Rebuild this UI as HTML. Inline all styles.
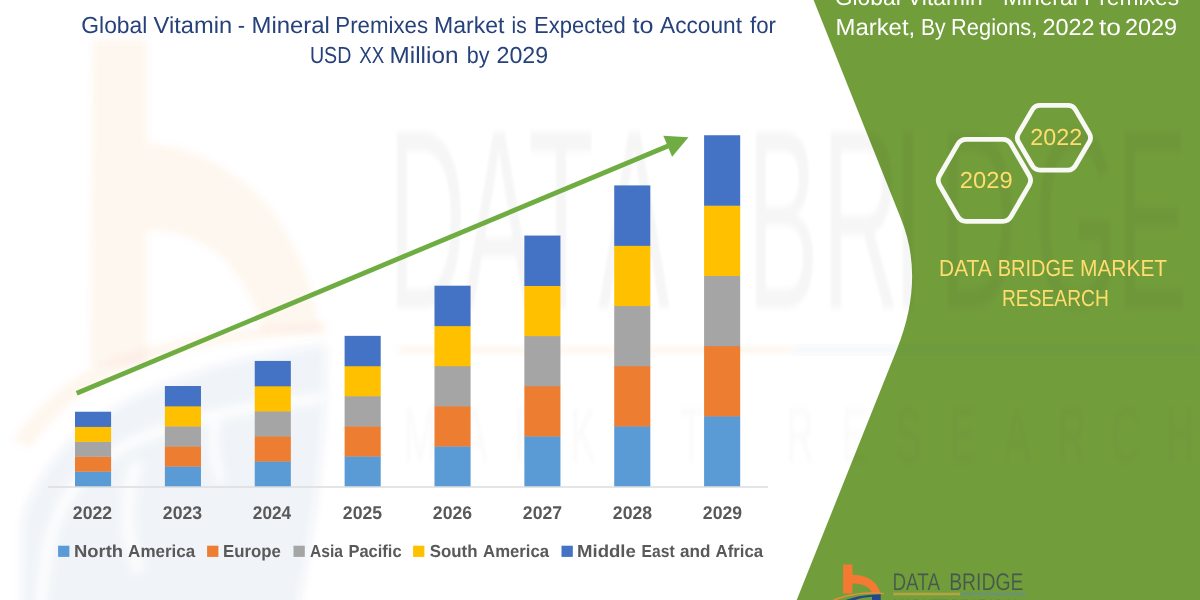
<!DOCTYPE html>
<html lang="en">
<head>
<meta charset="utf-8">
<title>Global Vitamin - Mineral Premixes Market</title>
<style>
html,body{margin:0;padding:0;background:#fff;}
body{width:1200px;height:600px;overflow:hidden;}
svg{display:block;}
text{font-family:"Liberation Sans",sans-serif;text-rendering:geometricPrecision;}
</style>
</head>
<body>
<svg width="1200" height="600" viewBox="0 0 1200 600">
<rect width="1200" height="600" fill="#ffffff"/>
<defs>
<filter id="b3" x="-20%" y="-20%" width="140%" height="140%"><feGaussianBlur stdDeviation="3"/></filter>
<filter id="b6" x="-20%" y="-20%" width="140%" height="140%"><feGaussianBlur stdDeviation="5"/></filter>
</defs>
<g id="wm" aria-hidden="true">
<g filter="url(#b6)" fill="#2F4C85" fill-opacity="0.058">
<path d="M22 660 L22 522 C30 490 52 458 78 433 C115 402 175 376 240 360 C270 353 300 348 326 345 C326 440 316 540 286 660 Z"/>
</g>
<g filter="url(#b6)" fill="none" stroke="#ffffff" stroke-opacity="0.85" stroke-width="9">
<path d="M40 640 C41 540 58 496 96 464 C140 432 200 412 322 398" stroke-width="11"/>
<path d="M138 462 C124 495 124 535 140 572" stroke-width="14" stroke-opacity="0.7"/>
<path d="M216 420 C212 440 214 462 222 482"/>
</g>
<g filter="url(#b3)" fill="#F47B35" fill-opacity="0.06">
<path d="M92.5 40 H147.5 V142.5 C200 146 262 178 296 250 C312 284 318 310 320 332 H262 C258 310 246 285 228 264 C208 243 182 232 147.5 230 V366 H90 Z"/>
<path d="M12 440 C40 400 75 372 120 355 C190 333 260 326 326 322 L326 334 C260 338 200 345 140 364 C95 380 60 410 30 448 Z"/>
</g>
</g>
<path d="M813.6 0 L901.2 219.3 Q925 279 897 349 L796.7 600 L1200 600 L1200 0 Z" fill="#729D3B"/>
<g id="wm2" aria-hidden="true">
<g filter="url(#b3)">
<rect x="398" y="346" width="395" height="8" fill="#F47B35" fill-opacity="0.06"/>
<rect x="793" y="346" width="407" height="8" fill="#24478F" fill-opacity="0.045"/>
</g>
<g filter="url(#b3)" fill="#000000" fill-opacity="0.036" font-size="256" text-anchor="middle" transform="scale(0.42 1)">
<text y="308" x="1017 1188 1336 1510 1690 1864 2050 2162 2329 2562 2743">DATA BRIDGE</text>
</g>
<g filter="url(#b3)" fill="#000000" fill-opacity="0.02" font-size="78" text-anchor="middle" transform="scale(0.5 1)">
<text y="462" x="840 949 1057 1166 1274 1383 1491 1600 1709 1817 1926 2034 2143 2251 2360">MARKET RESEARCH</text>
</g>
</g>
<g id="title">
<text y="32.6" font-size="23.2" fill="#27427A"><tspan x="81.32" textLength="66.02" lengthAdjust="spacingAndGlyphs">Global</tspan><tspan x="146.2"> </tspan><tspan x="153.6" textLength="78.51" lengthAdjust="spacingAndGlyphs">Vitamin</tspan><tspan x="231.2"> </tspan><tspan x="237.85" textLength="7.34" lengthAdjust="spacingAndGlyphs">-</tspan><tspan x="244.5"> </tspan><tspan x="251.47" textLength="78.42" lengthAdjust="spacingAndGlyphs">Mineral</tspan><tspan x="328.7"> </tspan><tspan x="335.34" textLength="92.73" lengthAdjust="spacingAndGlyphs">Premixes</tspan><tspan x="427.5"> </tspan><tspan x="434.01" textLength="70.44" lengthAdjust="spacingAndGlyphs">Market</tspan><tspan x="505.0"> </tspan><tspan x="511.6" textLength="15.14" lengthAdjust="spacingAndGlyphs">is</tspan><tspan x="526.2"> </tspan><tspan x="534.05" textLength="91.8" lengthAdjust="spacingAndGlyphs">Expected</tspan><tspan x="625.0"> </tspan><tspan x="632.5" textLength="20.97" lengthAdjust="spacingAndGlyphs">to</tspan><tspan x="652.5"> </tspan><tspan x="660.0" textLength="81.95" lengthAdjust="spacingAndGlyphs">Account</tspan><tspan x="742.5"> </tspan><tspan x="750.0" textLength="25.93" lengthAdjust="spacingAndGlyphs">for</tspan></text>
<text y="62.6" font-size="23.2" fill="#27427A"><tspan x="309.95" textLength="41.48" lengthAdjust="spacingAndGlyphs">USD</tspan><tspan x="350.8"> </tspan><tspan x="359.2" textLength="24.98" lengthAdjust="spacingAndGlyphs">XX</tspan><tspan x="383.8"> </tspan><tspan x="389.55" textLength="68.89" lengthAdjust="spacingAndGlyphs">Million</tspan><tspan x="457.5"> </tspan><tspan x="466.87" textLength="22.75" lengthAdjust="spacingAndGlyphs">by</tspan><tspan x="490.0"> </tspan><tspan x="496.5" textLength="51.6" lengthAdjust="spacingAndGlyphs">2029</tspan></text>
</g>
<rect x="48" y="486.3" width="720" height="1.4" fill="#DADADA"/>
<g id="bars">
<rect x="75.00" y="471.39" width="36.1" height="14.91" fill="#5B9BD5"/>
<rect x="75.00" y="456.47" width="36.1" height="15.21" fill="#ED7D31"/>
<rect x="75.00" y="441.56" width="36.1" height="15.21" fill="#A5A5A5"/>
<rect x="75.00" y="426.64" width="36.1" height="15.21" fill="#FFC000"/>
<rect x="75.00" y="411.73" width="36.1" height="15.21" fill="#4472C4"/>
<rect x="164.87" y="466.24" width="36.1" height="20.06" fill="#5B9BD5"/>
<rect x="164.87" y="446.18" width="36.1" height="20.36" fill="#ED7D31"/>
<rect x="164.87" y="426.12" width="36.1" height="20.36" fill="#A5A5A5"/>
<rect x="164.87" y="406.06" width="36.1" height="20.36" fill="#FFC000"/>
<rect x="164.87" y="386.00" width="36.1" height="20.36" fill="#4472C4"/>
<rect x="254.74" y="461.23" width="36.1" height="25.07" fill="#5B9BD5"/>
<rect x="254.74" y="436.15" width="36.1" height="25.38" fill="#ED7D31"/>
<rect x="254.74" y="411.08" width="36.1" height="25.38" fill="#A5A5A5"/>
<rect x="254.74" y="386.00" width="36.1" height="25.38" fill="#FFC000"/>
<rect x="254.74" y="360.93" width="36.1" height="25.38" fill="#4472C4"/>
<rect x="344.61" y="456.21" width="36.1" height="30.09" fill="#5B9BD5"/>
<rect x="344.61" y="426.12" width="36.1" height="30.39" fill="#ED7D31"/>
<rect x="344.61" y="396.03" width="36.1" height="30.39" fill="#A5A5A5"/>
<rect x="344.61" y="365.94" width="36.1" height="30.39" fill="#FFC000"/>
<rect x="344.61" y="335.85" width="36.1" height="30.39" fill="#4472C4"/>
<rect x="434.48" y="446.18" width="36.1" height="40.12" fill="#5B9BD5"/>
<rect x="434.48" y="406.06" width="36.1" height="40.42" fill="#ED7D31"/>
<rect x="434.48" y="365.94" width="36.1" height="40.42" fill="#A5A5A5"/>
<rect x="434.48" y="325.82" width="36.1" height="40.42" fill="#FFC000"/>
<rect x="434.48" y="285.70" width="36.1" height="40.42" fill="#4472C4"/>
<rect x="524.35" y="436.15" width="36.1" height="50.15" fill="#5B9BD5"/>
<rect x="524.35" y="386.00" width="36.1" height="50.45" fill="#ED7D31"/>
<rect x="524.35" y="335.85" width="36.1" height="50.45" fill="#A5A5A5"/>
<rect x="524.35" y="285.70" width="36.1" height="50.45" fill="#FFC000"/>
<rect x="524.35" y="235.55" width="36.1" height="50.45" fill="#4472C4"/>
<rect x="614.22" y="426.12" width="36.1" height="60.18" fill="#5B9BD5"/>
<rect x="614.22" y="365.94" width="36.1" height="60.48" fill="#ED7D31"/>
<rect x="614.22" y="305.76" width="36.1" height="60.48" fill="#A5A5A5"/>
<rect x="614.22" y="245.58" width="36.1" height="60.48" fill="#FFC000"/>
<rect x="614.22" y="185.40" width="36.1" height="60.48" fill="#4472C4"/>
<rect x="704.09" y="416.09" width="36.1" height="70.21" fill="#5B9BD5"/>
<rect x="704.09" y="345.88" width="36.1" height="70.51" fill="#ED7D31"/>
<rect x="704.09" y="275.67" width="36.1" height="70.51" fill="#A5A5A5"/>
<rect x="704.09" y="205.46" width="36.1" height="70.51" fill="#FFC000"/>
<rect x="704.09" y="135.25" width="36.1" height="70.51" fill="#4472C4"/>
</g>
<line x1="76.7" y1="393.2" x2="668" y2="146" stroke="#6FAD43" stroke-width="4.8"/>
<polygon points="688.5,137.2 663.3,135.8 672.1,156.7" fill="#6FAD43"/>
<g id="years">
<text y="518.7" font-size="18.4" font-weight="bold" fill="#595959"><tspan x="72.85" textLength="39.22" lengthAdjust="spacingAndGlyphs">2022</tspan></text>
<text y="518.7" font-size="18.4" font-weight="bold" fill="#595959"><tspan x="162.85" textLength="39.22" lengthAdjust="spacingAndGlyphs">2023</tspan></text>
<text y="518.7" font-size="18.4" font-weight="bold" fill="#595959"><tspan x="252.85" textLength="38.28" lengthAdjust="spacingAndGlyphs">2024</tspan></text>
<text y="518.7" font-size="18.4" font-weight="bold" fill="#595959"><tspan x="342.85" textLength="39.22" lengthAdjust="spacingAndGlyphs">2025</tspan></text>
<text y="518.7" font-size="18.4" font-weight="bold" fill="#595959"><tspan x="432.85" textLength="39.22" lengthAdjust="spacingAndGlyphs">2026</tspan></text>
<text y="518.7" font-size="18.4" font-weight="bold" fill="#595959"><tspan x="522.85" textLength="39.22" lengthAdjust="spacingAndGlyphs">2027</tspan></text>
<text y="518.7" font-size="18.4" font-weight="bold" fill="#595959"><tspan x="612.85" textLength="39.22" lengthAdjust="spacingAndGlyphs">2028</tspan></text>
<text y="518.7" font-size="18.4" font-weight="bold" fill="#595959"><tspan x="702.85" textLength="39.22" lengthAdjust="spacingAndGlyphs">2029</tspan></text>
</g>
<g id="legend">
<rect x="58.1" y="545.7" width="11.3" height="11.2" fill="#5B9BD5"/>
<rect x="207.1" y="545.7" width="11.3" height="11.2" fill="#ED7D31"/>
<rect x="293.5" y="545.7" width="11.3" height="11.2" fill="#A5A5A5"/>
<rect x="413.1" y="545.7" width="11.3" height="11.2" fill="#FFC000"/>
<rect x="561.5" y="545.7" width="11.3" height="11.2" fill="#4472C4"/>
<text y="556.6" font-size="17.4" font-weight="bold" fill="#595959"><tspan x="73.94" textLength="49.22" lengthAdjust="spacingAndGlyphs">North</tspan><tspan x="122.5"> </tspan><tspan x="128.1" textLength="67.18" lengthAdjust="spacingAndGlyphs">America</tspan></text>
<text y="556.6" font-size="17.4" font-weight="bold" fill="#595959"><tspan x="223.03" textLength="57.95" lengthAdjust="spacingAndGlyphs">Europe</tspan></text>
<text y="556.6" font-size="17.4" font-weight="bold" fill="#595959"><tspan x="310.0" textLength="33.01" lengthAdjust="spacingAndGlyphs">Asia</tspan><tspan x="343.3"> </tspan><tspan x="348.45" textLength="53.14" lengthAdjust="spacingAndGlyphs">Pacific</tspan></text>
<text y="556.6" font-size="17.4" font-weight="bold" fill="#595959"><tspan x="429.7" textLength="47.8" lengthAdjust="spacingAndGlyphs">South</tspan><tspan x="476.9"> </tspan><tspan x="483.1" textLength="65.98" lengthAdjust="spacingAndGlyphs">America</tspan></text>
<text y="556.6" font-size="17.4" font-weight="bold" fill="#595959"><tspan x="577.03" textLength="58.82" lengthAdjust="spacingAndGlyphs">Middle</tspan><tspan x="636.2"> </tspan><tspan x="641.6" textLength="33.01" lengthAdjust="spacingAndGlyphs">East</tspan><tspan x="674.8"> </tspan><tspan x="680.0" textLength="30.41" lengthAdjust="spacingAndGlyphs">and</tspan><tspan x="709.8"> </tspan><tspan x="715.6" textLength="47.58" lengthAdjust="spacingAndGlyphs">Africa</tspan></text>
</g>
<g id="panel">
<text y="4.5" font-size="23.2" fill="#FFFFFF"><tspan x="834.82" textLength="344.27" lengthAdjust="spacingAndGlyphs">Global Vitamin - Mineral Premixes</tspan></text>
<text y="34.9" font-size="23.2" fill="#FFFFFF"><tspan x="835.47" textLength="79.72" lengthAdjust="spacingAndGlyphs">Market,</tspan><tspan x="913.7"> </tspan><tspan x="921.09" textLength="24.54" lengthAdjust="spacingAndGlyphs">By</tspan><tspan x="946.0"> </tspan><tspan x="951.06" textLength="86.3" lengthAdjust="spacingAndGlyphs">Regions,</tspan><tspan x="1036.0"> </tspan><tspan x="1042.49" textLength="52.12" lengthAdjust="spacingAndGlyphs">2022</tspan><tspan x="1093.7"> </tspan><tspan x="1099.0" textLength="22.02" lengthAdjust="spacingAndGlyphs">to</tspan><tspan x="1120.0"> </tspan><tspan x="1124.99" textLength="52.12" lengthAdjust="spacingAndGlyphs">2029</tspan></text>
</g>
<g id="hex">
<path d="M939.6 185.1 Q936.8 180.3 939.6 175.5 L957.8 144.1 Q960.6 139.3 966.1 139.3 L1002.7 139.3 Q1008.2 139.3 1011.0 144.1 L1029.2 175.5 Q1032.0 180.3 1029.2 185.1 L1011.0 216.5 Q1008.2 221.3 1002.7 221.3 L966.1 221.3 Q960.6 221.3 957.8 216.5 Z" fill="none" stroke="#F8F8F5" stroke-width="4.8" stroke-linejoin="round"/>
<path d="M1018.5 142.0 Q1016.0 137.7 1018.5 133.4 L1032.4 109.6 Q1035.0 105.3 1040.0 105.3 L1067.9 105.3 Q1072.9 105.3 1075.4 109.6 L1089.3 133.4 Q1091.8 137.7 1089.3 142.0 L1075.4 165.8 Q1072.9 170.1 1067.9 170.1 L1040.0 170.1 Q1035.0 170.1 1032.4 165.8 Z" fill="none" stroke="#F8F8F5" stroke-width="4.8" stroke-linejoin="round"/>
<text y="188.4" font-size="23.2" fill="#FFDD6E"><tspan x="959.78" textLength="52.84" lengthAdjust="spacingAndGlyphs">2029</tspan></text>
<text y="145.1" font-size="23.2" fill="#FFDD6E"><tspan x="1030.29" textLength="51.91" lengthAdjust="spacingAndGlyphs">2022</tspan></text>
</g>
<g id="dbmr">
<text y="275.7" font-size="23.2" fill="#FFDD6E"><tspan x="939.1" textLength="52.72" lengthAdjust="spacingAndGlyphs">DATA</tspan><tspan x="992.3"> </tspan><tspan x="997.64" textLength="76.77" lengthAdjust="spacingAndGlyphs">BRIDGE</tspan><tspan x="1074.0"> </tspan><tspan x="1080.0" textLength="87.15" lengthAdjust="spacingAndGlyphs">MARKET</tspan></text>
<text y="305.7" font-size="23.2" fill="#FFDD6E"><tspan x="1001.97" textLength="106.88" lengthAdjust="spacingAndGlyphs">RESEARCH</tspan></text>
</g>
<g id="logo">
<path d="M843.1 564.4 H852.4 V575.0 C866 574.3 877.5 581 880.4 593.2 H872.2 C869.6 586.6 862 583.2 852.4 583.6 V593.6 H843.1 Z" fill="#F47A33"/>
<path d="M832.5 600 C842 595.6 856 592.6 870 592.3 C876 592.2 881 592.6 884 593.2 L884 594.3 C880 593.8 876 593.6 870 593.7 C857 594 845 596.5 836 600 Z" fill="#E2913C"/>
<path d="M845.5 600 C853 597.2 862 595.3 872 594.7 L880.7 594.3 L880.7 600 L872 600 L872 596.8 C866 597.2 860 598.3 855 600 Z" fill="#24468C"/>
<g stroke="#729D3B" stroke-width="0.2">
<text y="590.0" font-size="24" fill="#45574F"><tspan x="892.51" textLength="47.49" lengthAdjust="spacingAndGlyphs">DATA</tspan><tspan x="940.0"> </tspan><tspan x="949.19" textLength="74.32" lengthAdjust="spacingAndGlyphs">BRIDGE</tspan></text>
</g>
<rect x="893.3" y="592.7" width="67" height="2.6" fill="#B3A540"/>
<rect x="960.3" y="592.7" width="65" height="2.6" fill="#6A9373"/>
<text x="893.3" y="607.6" font-size="12" fill="#56705A" textLength="130" lengthAdjust="spacingAndGlyphs">MARKET RESEARCH</text>
</g>
</svg>
</body>
</html>
